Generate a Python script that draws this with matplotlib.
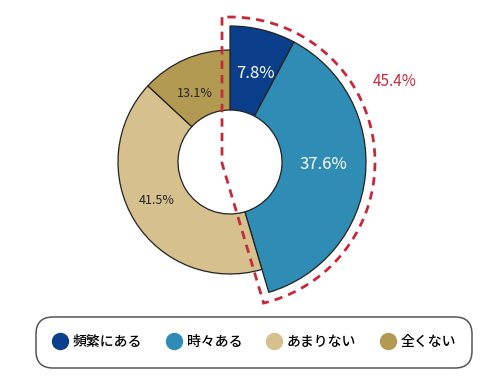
import numpy as np
import matplotlib.pyplot as plt
from matplotlib.patches import Polygon, FancyBboxPatch
from matplotlib.lines import Line2D

plt.rcParams['font.family'] = ['Noto Sans CJK JP', 'DejaVu Sans']

labels = ['頻繁にある', '時々ある', 'あまりない', '全くない']
values = [7.8, 37.6, 41.5, 13.1]
colors = ['#0b3f8c', '#2f8db5', '#d5c08e', '#b39a52']
highlight_total = '45.4%'

fig = plt.figure(figsize=(5.02, 3.78), dpi=100)
ax = fig.add_axes([0, 0, 1, 1])

# pixel-like coordinates, y up
cx, cy = 230, 216
r_in = 52
r_out = 112
r_big = 136

wedges, _ = ax.pie(values, colors=colors, startangle=90, counterclock=False,
                   radius=r_out, center=(cx, cy), frame=True,
                   wedgeprops=dict(width=r_out - r_in, edgecolor='#222222', linewidth=0.9))
# the two "ある" slices are drawn larger
for w in wedges[:2]:
    w.set_radius(r_big)
    w.set_width(r_big - r_in)

# percentage labels (order: 7.8, 37.6, 41.5, 13.1)
label_r = [(r_in + r_big) / 2 + 4, (r_in + r_big) / 2, (r_in + r_out) / 2 + 4, (r_in + r_out) / 2 + 6]
label_shift = [(2, -7), (0, 7), (0, 7), (0, -12)]
label_col = ['white', 'white', '#222222', '#222222']
label_fs = [12, 12, 9, 9]
cum = np.cumsum([0] + values)
for i, v in enumerate(values):
    mid = np.deg2rad(90 - (cum[i] + v / 2) * 3.6)
    ax.text(cx + label_r[i] * np.cos(mid) + label_shift[i][0],
            cy + label_r[i] * np.sin(mid) + label_shift[i][1], f'{v}%',
            ha='center', va='center', color=label_col[i], fontsize=label_fs[i])

# dashed outline around the first two slices
theta = np.deg2rad((values[0] + values[1]) * 3.6)
d = np.array([np.sin(theta), np.cos(theta)])
n_out = np.array([d[1], -d[0]])
off = 8
R = 145
corner_y = (off - (-off) * n_out[0]) / n_out[1]
corner = np.array([-off, corner_y])
# point on the offset ray at radius R
b = corner @ d
t = -b + np.sqrt(b * b - (corner @ corner - R * R))
end = corner + t * d
a0 = np.arctan2(end[1], end[0])
a1 = np.arctan2(np.sqrt(R * R - off * off), -off)
arc = np.linspace(a0, a1, 80)
pts = [[-off, np.sqrt(R * R - off * off)], corner.tolist(), end.tolist()]
pts += [[R * np.cos(a), R * np.sin(a)] for a in arc]
pts = np.array(pts) + [cx, cy]
ax.add_patch(Polygon(pts, closed=True, fill=False, edgecolor='#c8283c',
                     linewidth=2, linestyle=(0, (3, 2.2))))
ax.text(395, 297, highlight_total, color='#c8283c', fontsize=11, ha='center', va='center')

ax.set_xlim(0, 502)
ax.set_ylim(0, 378)
ax.set_aspect('equal')
ax.axis('off')

# legend box
ax.add_patch(FancyBboxPatch((36 + 17, 10 + 17), 436 - 34, 51 - 34,
                            boxstyle='round,pad=17', facecolor='white',
                            edgecolor='#555555', linewidth=1.1))
handles = [Line2D([], [], marker='o', linestyle='', markersize=11.5, markerfacecolor=c,
                  markeredgecolor=c) for c in colors]
leg = ax.legend(handles, labels, ncol=4, loc='center', bbox_to_anchor=(254, 36),
                bbox_transform=ax.transData, frameon=False,
                handletextpad=0.3, columnspacing=1.7, handlelength=1.2,
                prop=dict(size=10, weight='medium'))

fig.savefig('out.png', dpi=100)
